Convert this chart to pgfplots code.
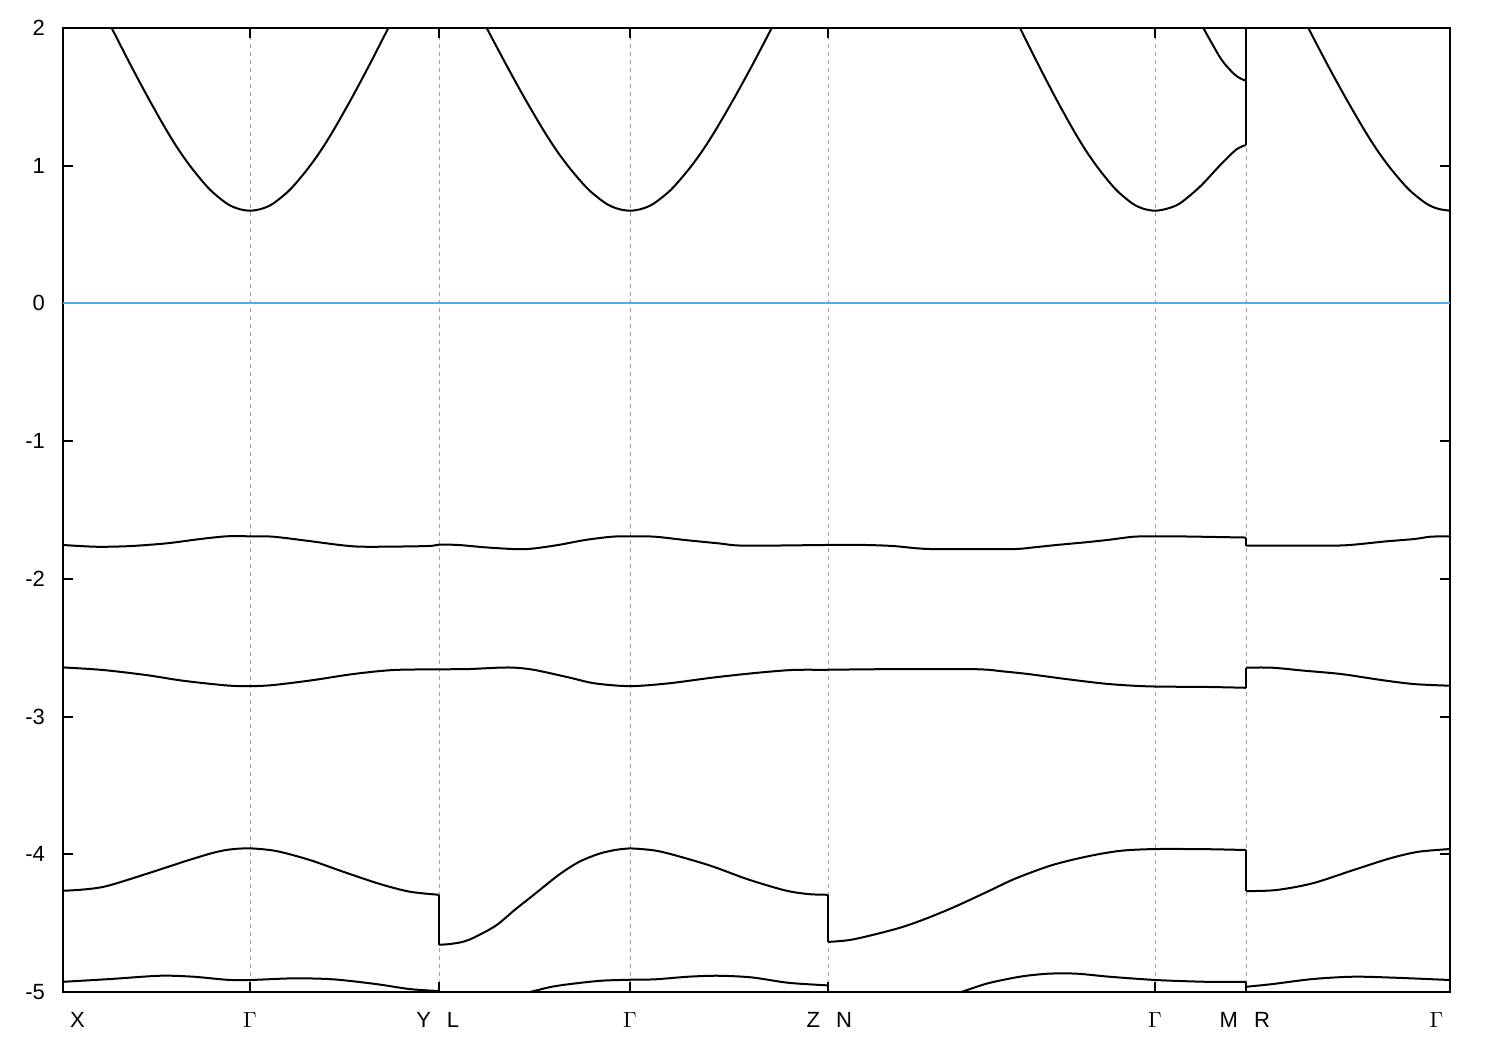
\documentclass[border=0pt]{standalone}
\usepackage{pgfplots}
\pgfplotsset{compat=1.18}
\usepackage{fontspec}
\setmainfont{Liberation Sans}
\definecolor{fermiblue}{rgb}{0.30,0.68,0.92}
\definecolor{gridgray}{HTML}{A0A0A0}
\begin{document}
\begin{tikzpicture}[
  band/.style={draw=black, line width=1pt, line join=round, mark=none, solid, smooth, tension=0.5},
  vline/.style={draw=black, line width=1pt, mark=none, solid}]
\begin{axis}[
  scale only axis, width=693.5pt, height=482pt,
  xmin=0, xmax=1387, ymin=-5, ymax=2,
  axis line style={line width=1pt},
  xtick={0,187,376,567,765,1092,1183,1387},
  xticklabels={\rlap{\hspace{3.6pt}X}, $\Gamma$, \llap{Y\hspace{4pt}}\rlap{\hspace{4pt}L}, $\Gamma$, \llap{Z\hspace{4pt}}\rlap{\hspace{4pt}N}, $\Gamma$, \llap{M\hspace{4pt}}\rlap{\hspace{4pt}R}, \llap{$\Gamma$\hspace{3.3pt}}},
  ytick={-5,-4,-3,-2,-1,0,1,2},
  yticklabels={-5,-4,-3,-2,-1,0,1,2},
  tick align=inside, major tick length=5pt,
  tick style={line width=1pt, black},
  xmajorgrids,
  major grid style={gridgray, line width=0.5pt, dash pattern=on 2pt off 2pt},
  tick label style={font=\fontsize{11}{13}\selectfont},
  xticklabel style={text height=8pt, text depth=0pt, yshift=-6.1pt},
  yticklabel style={xshift=-5.5pt},
]
\coordinate (sw) at (rel axis cs:0,0);
\coordinate (ne) at (rel axis cs:1,1);

% Fermi level
\addplot[draw=fermiblue, color=fermiblue, line width=1pt, mark=none, solid] coordinates {(0,0) (1387,0)};

% conduction band
\addplot[band] coordinates {(48.7,2.0) (67,1.740) (85.3,1.491) (103.7,1.255) (117,1.101) (130.3,0.968) (147,0.826) (163.7,0.726) (175,0.688) (187,0.673) (199,0.688) (210.3,0.726) (227,0.826) (243.7,0.968) (257,1.101) (270.3,1.255) (288.7,1.491) (307,1.740) (325.3,2.0)};
\addplot[band] coordinates {(423.7,2.0) (442.7,1.740) (461.6,1.491) (480.7,1.255) (494.5,1.101) (508.3,0.968) (525.6,0.826) (542.9,0.726) (554.6,0.688) (567,0.673) (579.3,0.688) (590.9,0.726) (608,0.826) (625.1,0.968) (638.7,1.101) (652.3,1.255) (671.2,1.491) (690,1.740) (708.7,2.0)};
\addplot[band] coordinates {(957,2.0) (974.9,1.740) (992.7,1.491) (1010.7,1.255) (1023.7,1.101) (1036.7,0.968) (1053,0.826) (1069.3,0.726) (1080.3,0.688) (1092,0.673) (1104,0.688) (1117,0.727) (1137,0.848) (1157,1.003) (1172,1.110) (1179,1.140) (1183,1.150)};
\addplot[band] coordinates {(1140.3,2.0) (1147,1.913) (1158.7,1.768) (1170.3,1.671) (1177,1.635) (1183,1.617)};
\addplot[vline] coordinates {(1183,1.150) (1183,2.3)};
\addplot[band] coordinates {(1245.3,2.0) (1264,1.740) (1282.8,1.491) (1301.7,1.255) (1315.3,1.101) (1328.9,0.968) (1346,0.826) (1363.1,0.726) (1374.7,0.688) (1387,0.673)};

% valence band A
\addplot[band] coordinates {(0,-1.754) (33.7,-1.767) (67,-1.762) (103.7,-1.742) (137,-1.711) (163.7,-1.691) (187,-1.691) (210.3,-1.694) (243.7,-1.723) (280.3,-1.757) (303.7,-1.767) (363.7,-1.762) (376,-1.752)
 (395.3,-1.754) (422,-1.771) (452,-1.784) (468.7,-1.781) (495.3,-1.754) (522,-1.718) (548.7,-1.694) (567,-1.691) (592,-1.694) (622,-1.718) (655.3,-1.742) (682,-1.759) (765,-1.754)
 (802.4,-1.754) (830.9,-1.762) (855.2,-1.779) (875.6,-1.784) (948.7,-1.784) (971.1,-1.771) (993.5,-1.754) (1021.9,-1.735) (1046.3,-1.716) (1070.7,-1.694) (1093,-1.691) (1120,-1.692) (1183,-1.700)};
\addplot[vline] coordinates {(1183,-1.700) (1183,-1.759)};
\addplot[band] coordinates {(1183,-1.759) (1266.3,-1.759) (1290.2,-1.752) (1322.7,-1.728) (1351.1,-1.711) (1367.4,-1.694) (1387,-1.691)};

% valence band B
\addplot[band] coordinates {(0,-2.643) (40.3,-2.662) (83.7,-2.699) (120.3,-2.740) (163.7,-2.774) (187,-2.779) (210.3,-2.771) (250.3,-2.735) (290.3,-2.691) (330.3,-2.662) (376,-2.657)
 (405.3,-2.655) (435.3,-2.645) (452,-2.645) (472,-2.662) (505.3,-2.715) (532,-2.759) (567,-2.779) (605.3,-2.759) (648.7,-2.718) (688.7,-2.686) (728.7,-2.662) (765,-2.660)
 (820.7,-2.656) (912.2,-2.656) (940,-2.672) (965,-2.691) (1005.7,-2.730) (1046.3,-2.764) (1087,-2.781) (1143.9,-2.785) (1183,-2.791)};
\addplot[vline] coordinates {(1183,-2.791) (1183,-2.645)};
\addplot[band] coordinates {(1183,-2.645) (1208.9,-2.645) (1241.4,-2.667) (1278,-2.691) (1318.7,-2.735) (1351.1,-2.764) (1387,-2.776)};

% valence band C
\addplot[band] coordinates {(0,-4.265) (20,-4.256) (43.7,-4.231) (87,-4.134) (123.7,-4.047) (150.3,-3.989) (167,-3.965) (187,-3.957) (213.7,-3.977) (247,-4.042) (280.3,-4.127) (317,-4.216) (347,-4.272) (376,-4.294)};
\addplot[vline] coordinates {(376,-4.294) (376,-4.657)};
\addplot[band] coordinates {(376,-4.657) (388.7,-4.650) (405.3,-4.623) (432,-4.522) (452,-4.402) (472,-4.287) (495.3,-4.152) (515.3,-4.058) (535.3,-3.998) (552,-3.969) (567,-3.957) (575,-3.960) (598.7,-3.982) (645.3,-4.078) (685.3,-4.183) (722,-4.262) (745.3,-4.289) (765,-4.294)};
\addplot[vline] coordinates {(765,-4.294) (765,-4.636)};
\addplot[band] coordinates {(765,-4.636) (790.2,-4.618) (834.9,-4.538) (863.4,-4.466) (891.8,-4.381) (924.3,-4.272) (952.8,-4.175) (989.4,-4.078) (1026,-4.013) (1058.5,-3.974) (1093,-3.962) (1143.9,-3.963) (1183,-3.969)};
\addplot[vline] coordinates {(1183,-3.969) (1183,-4.267)};
\addplot[band] coordinates {(1183,-4.267) (1212.9,-4.260) (1249.5,-4.211) (1290.2,-4.115) (1326.8,-4.030) (1355.2,-3.982) (1387,-3.962)};

% valence band D
\addplot[band] coordinates {(0,-4.926) (47,-4.906) (97,-4.882) (130.3,-4.889) (163.7,-4.911) (187,-4.913) (230.3,-4.901) (270.3,-4.908) (313.7,-4.943) (347,-4.979) (376,-4.993)};
\addplot[vline] coordinates {(376,-4.993) (376,-5.12)};
\addplot[band] coordinates {(376,-5.12) (420,-5.065) (463.7,-5.005) (488.7,-4.962) (512,-4.938) (538.7,-4.918) (567,-4.911) (592,-4.908) (625.3,-4.889) (655.3,-4.882) (688.7,-4.894) (725.3,-4.933) (765,-4.952)};
\addplot[vline] coordinates {(765,-4.952) (765,-5.2)};
\addplot[band] coordinates {(765,-5.2) (830,-5.12) (870,-5.05) (895.9,-5.005) (924.3,-4.938) (956.9,-4.889) (985.3,-4.867) (1013.8,-4.867) (1046.3,-4.889) (1093,-4.913) (1143.9,-4.926) (1183,-4.926)};
\addplot[vline] coordinates {(1183,-4.926) (1183,-4.962)};
\addplot[band] coordinates {(1183,-4.962) (1208.9,-4.943) (1249.5,-4.906) (1290.2,-4.889) (1330.9,-4.896) (1387,-4.913)};
\end{axis}
\pgfresetboundingbox
\path[use as bounding box] ([xshift=-31.5pt,yshift=-29pt]sw) rectangle ([xshift=25pt,yshift=14pt]ne);
\end{tikzpicture}
\end{document}
